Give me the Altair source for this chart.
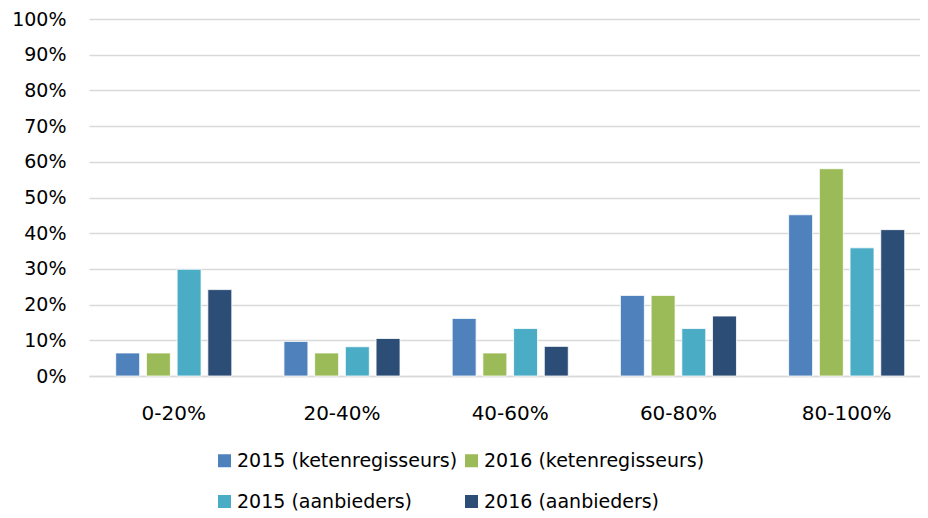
import altair as alt
import pandas as pd

categories = ["0-20%", "20-40%", "40-60%", "60-80%", "80-100%"]
series = ["2015 (ketenregisseurs)", "2016 (ketenregisseurs)", "2015 (aanbieders)", "2016 (aanbieders)"]
v_2015_keten = [0.0645, 0.0968, 0.1613, 0.2258, 0.4516]
v_2016_keten = [0.0645, 0.0645, 0.0645, 0.2258, 0.5806]
v_2015_aanb = [0.299, 0.082, 0.133, 0.133, 0.359]
v_2016_aanb = [0.242, 0.105, 0.083, 0.168, 0.410]
colors = ["#4F81BD", "#9BBB59", "#4BACC6", "#2C4D75"]
legend_order = [series[0], series[2], series[1], series[3]]

rows = []
for s, vals in zip(series, [v_2015_keten, v_2016_keten, v_2015_aanb, v_2016_aanb]):
    for c, v in zip(categories, vals):
        rows.append({"cat": c, "series": s, "value": v})
df = pd.DataFrame(rows)

FONT = "DejaVu Sans"

chart = alt.Chart(df).mark_bar(stroke="white", strokeWidth=0.8).encode(
    x=alt.X("cat:N", sort=categories, title=None,
            scale=alt.Scale(paddingInner=0.31, paddingOuter=0.1248, align=0.636),
            axis=alt.Axis(labelAngle=0, labelFontSize=20, labelFont=FONT, labelColor="#000000",
                          ticks=False, domainColor="#d9d9d9", domainWidth=1.5, labelPadding=27)),
    xOffset=alt.XOffset("series:N", sort=series,
                        scale=alt.Scale(paddingInner=0.22, paddingOuter=0.0)),
    y=alt.Y("value:Q", title=None,
            scale=alt.Scale(domain=[0, 1], nice=False),
            axis=alt.Axis(format=".0%", values=[i / 10 for i in range(11)], labelFontSize=19,
                          labelFont=FONT, labelColor="#000000", ticks=False, domain=False,
                          gridColor="#d9d9d9", gridWidth=1.5, labelPadding=23)),
    color=alt.Color("series:N", sort=series,
                    scale=alt.Scale(domain=series, range=colors),
                    legend=alt.Legend(title=None, orient="none", legendX=126, legendY=432,
                                      columns=2, values=legend_order, symbolType="square",
                                      symbolSize=169, symbolStrokeWidth=0, labelFontSize=19,
                                      labelFont=FONT, labelColor="#000000", rowPadding=21,
                                      columnPadding=4, labelOffset=3, labelLimit=400)),
).properties(
    width=831, height=357,
    autosize=alt.AutoSizeParams(type="none"),
    padding={"left": 81, "top": 11, "right": 0, "bottom": 142},
    background="white",
).configure_view(stroke=None)

chart.save("out.html", embed_options={"renderer": "svg", "actions": False})
